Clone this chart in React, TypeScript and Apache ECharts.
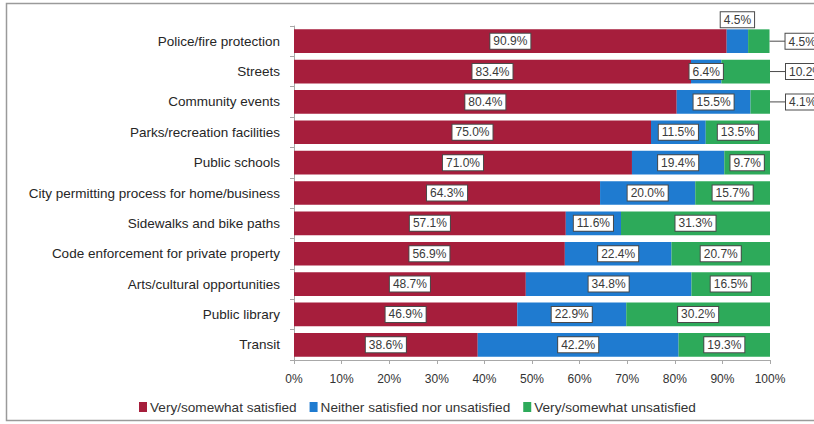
import React, { useEffect, useRef } from "react";
import * as echarts from "echarts";

const categories = [
  "Police/fire protection",
  "Streets",
  "Community events",
  "Parks/recreation facilities",
  "Public schools",
  "City permitting process for home/business",
  "Sidewalks and bike paths",
  "Code enforcement for private property",
  "Arts/cultural opportunities",
  "Public library",
  "Transit",
];
const satisfied = [90.9, 83.4, 80.4, 75.0, 71.0, 64.3, 57.1, 56.9, 48.7, 46.9, 38.6];
const neither = [4.5, 6.4, 15.5, 11.5, 19.4, 20.0, 11.6, 22.4, 34.8, 22.9, 42.2];
const unsatisfied = [4.5, 10.2, 4.1, 13.5, 9.7, 15.7, 31.3, 20.7, 16.5, 30.2, 19.3];
const seriesNames = [
  "Very/somewhat satisfied",
  "Neither satisfied nor unsatisfied",
  "Very/somewhat unsatisfied",
];
const colors = ["#A61E3C", "#1F7BD0", "#2DAA5A"];
// label placement overrides (by category index)
const neitherTopLabels = [0];
const unsatisfiedRightLabels = [0, 1, 2];

const FONT = "'Liberation Sans', Arial, sans-serif";
const LABEL_BORDER = "#4a4a4a";
const LABEL_COLOR = "#3a3a3a";
const LABEL_SIZE = 12;

const fmt = (v: any) => Number(v).toFixed(1) + "%";

const baseLabel = {
  show: true,
  position: "inside" as const,
  formatter: (p: any) => fmt(p.value),
  backgroundColor: "#ffffff",
  borderColor: LABEL_BORDER,
  borderWidth: 1,
  padding: [2, 3, 1, 3],
  color: LABEL_COLOR,
  fontSize: LABEL_SIZE,
  fontFamily: FONT,
};

const rightLabel = {
  show: true,
  position: "right" as const,
  distance: 0,
  backgroundColor: "transparent",
  borderWidth: 0,
  padding: 0,
  formatter: (p: any) => "{l|}{b|" + fmt(p.value) + "}",
  rich: {
    l: { width: 16, height: 1, backgroundColor: LABEL_BORDER, verticalAlign: "middle" },
    b: {
      backgroundColor: "#ffffff",
      borderColor: LABEL_BORDER,
      borderWidth: 1,
      padding: [2, 3, 1, 3],
      color: LABEL_COLOR,
      fontSize: LABEL_SIZE,
      fontFamily: FONT,
      verticalAlign: "middle",
    },
  },
};

export default function App() {
  const ref = useRef<HTMLDivElement>(null);
  useEffect(() => {
    if (!ref.current) return;
    const chart = echarts.init(ref.current, undefined, { renderer: "svg" });
    const makeData = (vals: number[], idx: number) =>
      vals.map((v, i) => {
        if (idx === 1 && neitherTopLabels.includes(i)) {
          return { value: v, label: { position: "top", distance: 2 } };
        }
        if (idx === 2 && unsatisfiedRightLabels.includes(i)) {
          return { value: v, label: rightLabel };
        }
        return v;
      });
    const all = [satisfied, neither, unsatisfied];
    chart.setOption({
      animation: false,
      backgroundColor: "#ffffff",
      textStyle: { fontFamily: FONT },
      grid: { left: 294, right: 44, top: 26, bottom: 64, containLabel: false },
      graphic: [
        {
          type: "rect",
          shape: { x: 6.5, y: 3.5, width: 830, height: 417 },
          style: { fill: "none", stroke: "#9a9a9a", lineWidth: 1.5 },
          silent: true,
          z: -1,
        },
      ],
      legend: {
        left: 134,
        top: 395,
        icon: "rect",
        itemWidth: 8,
        itemHeight: 10,
        itemGap: 13,
        textStyle: { fontSize: 13.6, color: "#333", fontFamily: FONT, padding: [0, 0, 0, -2] },
        data: seriesNames,
      },
      xAxis: {
        type: "value",
        min: 0,
        max: 100,
        interval: 10,
        splitLine: { show: false },
        axisLine: { show: true, lineStyle: { color: "#a8a8a8" } },
        axisTick: { show: true, length: 4, lineStyle: { color: "#a8a8a8" } },
        axisLabel: { formatter: "{value}%", fontSize: 12, color: "#333", margin: 13, fontFamily: FONT },
      },
      yAxis: {
        type: "category",
        inverse: true,
        data: categories,
        axisLine: { show: true, lineStyle: { color: "#a8a8a8" } },
        axisTick: { show: true, length: 4, lineStyle: { color: "#a8a8a8" } },
        axisLabel: { fontSize: 13.5, color: "#262626", margin: 14, fontFamily: FONT },
      },
      series: all.map((vals, idx) => ({
        type: "bar",
        name: seriesNames[idx],
        stack: "total",
        barWidth: "78%",
        itemStyle: { color: colors[idx] },
        label: baseLabel,
        data: makeData(vals, idx),
      })),
    });
    return () => chart.dispose();
  }, []);
  return (
    <div
      ref={ref}
      style={{ position: "fixed", left: 0, top: 0, width: 814, height: 424 }}
    />
  );
}
